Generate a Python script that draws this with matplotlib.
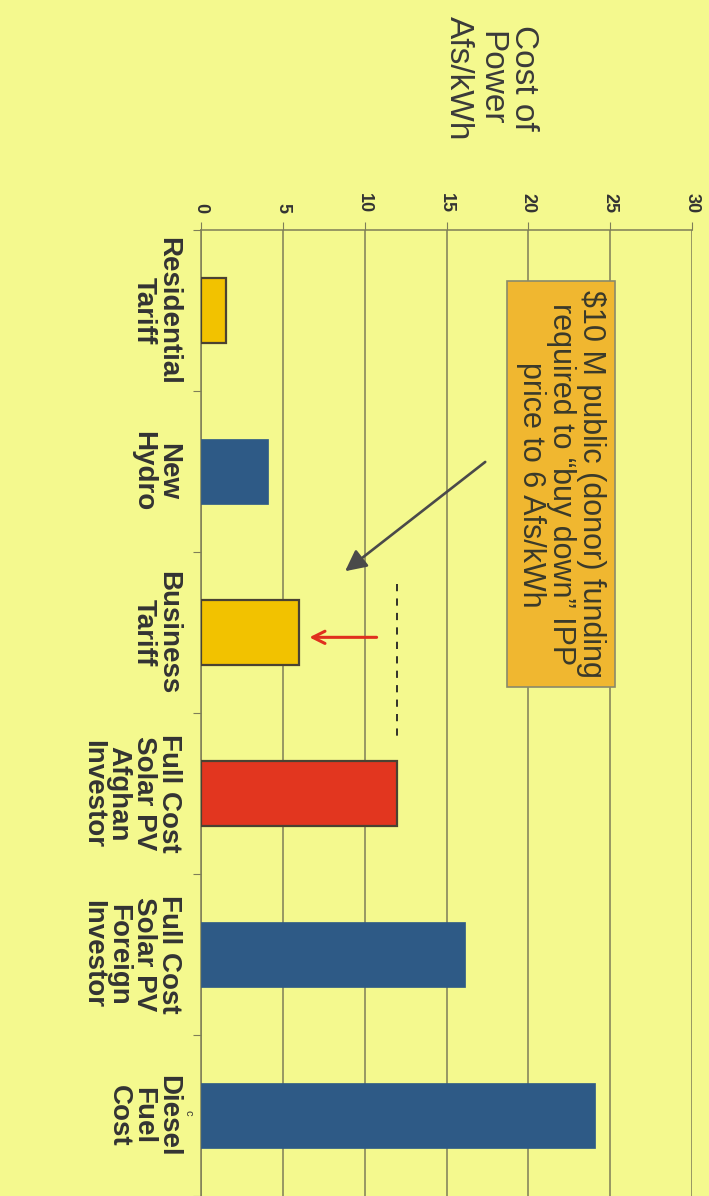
import matplotlib.pyplot as plt
from matplotlib.ticker import FixedLocator

# Cost of power by source (Afs/kWh), chart is drawn rotated 90 degrees
categories = ["Residential\nTariff", "New\nHydro", "Business\nTariff",
              "Full Cost\nSolar PV\nAfghan\nInvestor",
              "Full Cost\nSolar PV\nForeign\nInvestor",
              "Diesel\nFuel\nCost"]
values = [1.5, 4.1, 6.0, 12.0, 16.1, 24.1]
bar_colors = ["#F2C200", "#2E5A86", "#F2C200", "#E2361F", "#2E5A86", "#2E5A86"]
outlined = [True, False, True, True, False, False]
value_ticks = [0, 5, 10, 15, 20, 25, 30]

note_text = ("$10 M public (donor) funding\n"
             "required to \u201cbuy down\u201d IPP\n"
             "price to 6 Afs/kWh")

BG = "#F4F98E"
GRID = "#7E7E58"
TEXT = "#333333"

plt.rcParams['font.family'] = ['Liberation Sans', 'DejaVu Sans']

fig = plt.figure(figsize=(7.09, 11.96), dpi=100, facecolor=BG)
ax = fig.add_axes([201 / 709, 0.0, 491 / 709, 1 - 230 / 1196])
ax.set_facecolor(BG)

ypos = list(range(len(categories)))
for y, v, c, o in zip(ypos, values, bar_colors, outlined):
    ax.barh(y, v, height=0.4, color=c,
            edgecolor="#4A4232" if o else c, linewidth=1.6 if o else 0.5,
            zorder=3)

ax.set_xlim(0, 30)
ax.set_ylim(len(categories) - 0.5, -0.5)

# value axis on top, rotated labels
ax.xaxis.tick_top()
ax.set_xticks(value_ticks)
ax.set_xticklabels([str(t) for t in value_ticks], rotation=-90,
                   fontsize=13, fontweight='bold', color=TEXT)
ax.tick_params(axis='x', length=6, color=GRID, pad=6)
ax.grid(axis='x', color=GRID, linewidth=1.1, zorder=1)

# category boundaries as ticks, names centred on bars
ax.yaxis.set_major_locator(FixedLocator([i - 0.5 for i in range(len(categories) + 1)]))
ax.yaxis.set_minor_locator(FixedLocator(ypos))
ax.set_yticklabels([], minor=False)
ax.set_yticklabels(categories, minor=True, rotation=-90, fontsize=20,
                   fontweight='bold', color=TEXT, linespacing=0.95,
                   va='center', ha='right')
for lab in ax.get_yticklabels(minor=True):
    lab.set_multialignment('center')
ax.tick_params(axis='y', which='major', length=6, color=GRID)
ax.tick_params(axis='y', which='minor', length=0, pad=14)

for side in ['right', 'bottom']:
    ax.spines[side].set_visible(False)
for side in ['top', 'left']:
    ax.spines[side].set_color(GRID)
    ax.spines[side].set_linewidth(1.1)

# note box
ax.text(22.0, 1.08, note_text, rotation=-90, ha='center', va='center',
        multialignment='center', fontsize=22, linespacing=1.0, color="#3A3A2A",
        bbox=dict(boxstyle='square,pad=0.3', fc="#F0B730", ec="#8A8A6A", lw=1.2),
        zorder=5)

# gray pointer arrow
ax.annotate("", xy=(8.67, 1.63), xytext=(17.5, 0.93),
            arrowprops=dict(arrowstyle='-|>', color="#4A4A4A", lw=1.9,
                            mutation_scale=32), zorder=6)

# red buy-down arrow and dashed reference
ax.annotate("", xy=(6.45, 2.03), xytext=(10.9, 2.03),
            arrowprops=dict(arrowstyle='->', color="#E0301E", lw=2.2,
                            mutation_scale=22), zorder=6)
ax.plot([12.0, 12.0], [1.70, 2.67], color="#222222", lw=1.3,
        linestyle=(0, (4, 4)), zorder=4)

# stray mark beside the Diesel label
fig.text(189 / 709, 1 - 1113 / 1196, "c", rotation=-90, fontsize=8,
         color=TEXT, ha='center', va='center')

# axis title, rotated
fig.text(491 / 709, 1 - 78 / 1196, "Cost of\nPower\nAfs/kWh", rotation=-90,
         ha='center', va='center', multialignment='center', fontsize=24,
         color="#3A3A3A", linespacing=1.05)

fig.savefig("out.png", dpi=100, facecolor=BG)
